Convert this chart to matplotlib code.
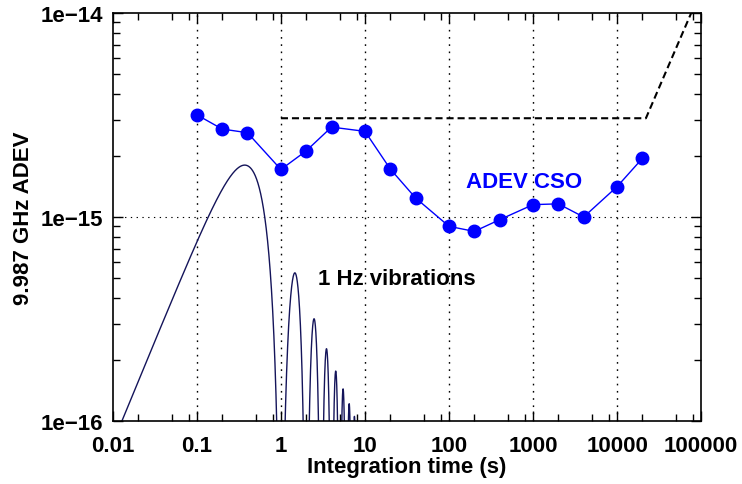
import numpy as np
import matplotlib.pyplot as plt
from matplotlib.ticker import LogLocator, NullFormatter, FixedLocator

plt.rcParams['font.family'] = ['Liberation Sans', 'DejaVu Sans']
plt.rcParams['font.weight'] = 'bold'

# ADEV of the CSO
tau_cso = [0.1, 0.2, 0.4, 1, 2, 4, 10, 20, 40, 100, 200, 400,
           1000, 2000, 4000, 10000, 20000]
adev_cso = [3.17e-15, 2.70e-15, 2.59e-15, 1.71e-15, 2.11e-15, 2.76e-15,
            2.63e-15, 1.72e-15, 1.24e-15, 9.0e-16, 8.5e-16, 9.7e-16,
            1.15e-15, 1.16e-15, 1.0e-15, 1.41e-15, 1.94e-15]

# specification (dashed)
tau_spec = [1, 22000, 76000]
adev_spec = [3.05e-15, 3.05e-15, 1.0e-14]

# 1 Hz vibration model: sigma = A sin^2(pi f tau) / (pi f tau)
vib_freq = 1.0
vib_amp = 2.48e-15
tau_vib = np.logspace(-2, 1, 6000)
adev_vib = vib_amp * np.sin(np.pi * vib_freq * tau_vib) ** 2 / (np.pi * vib_freq * tau_vib)

xticks = [0.01, 0.1, 1, 10, 100, 1000, 10000, 100000]
xlabels = ['0.01', '0.1', '1', '10', '100', '1000', '10000', '100000']
yticks = [1e-16, 1e-15, 1e-14]
ylabels = ['1e\u221216', '1e\u221215', '1e\u221214']

fig = plt.figure(figsize=(7.42, 4.85), dpi=100)
ax = fig.add_axes([0.152, 0.130, 0.793, 0.841])

ax.plot(tau_vib, adev_vib, color='#14145a', lw=1.0)
ax.plot(tau_spec, adev_spec, color='black', lw=1.5, ls=(0, (3.4, 1.9)))
ax.plot(tau_cso, adev_cso, color='#0000ff', lw=1.0, marker='o', ms=9)

ax.set_xscale('log')
ax.set_yscale('log')
ax.set_xlim(0.01, 100000)
ax.set_ylim(1e-16, 1e-14)

# dotted grid at inner decades
for x in xticks[1:-1]:
    ax.axvline(x, color='black', lw=1.0, ls=(0, (1.2, 4)), zorder=0)
ax.axhline(1e-15, color='black', lw=0.8, ls=(0, (1.2, 4)), zorder=0)

ax.xaxis.set_major_locator(FixedLocator(xticks))
ax.set_xticklabels(xlabels)
ax.xaxis.set_minor_locator(LogLocator(base=10, subs=(2, 5, 8), numticks=20))
ax.xaxis.set_minor_formatter(NullFormatter())
ax.yaxis.set_major_locator(FixedLocator(yticks))
ax.set_yticklabels(ylabels)
ax.yaxis.set_minor_locator(LogLocator(base=10, subs=np.arange(2, 10), numticks=20))
ax.yaxis.set_minor_formatter(NullFormatter())

ax.tick_params(which='both', direction='in', top=True, right=True, labelsize=16, width=1.0)
ax.tick_params(which='major', length=7)
ax.tick_params(which='minor', length=5)
ax.tick_params(axis='x', which='major', pad=10)
ax.tick_params(axis='y', which='major', pad=7)
for lab in ax.get_xticklabels() + ax.get_yticklabels():
    lab.set_fontweight('bold')
for sp in ax.spines.values():
    sp.set_linewidth(1.2)

ax.set_xlabel('Integration time (s)', fontsize=16, fontweight='bold', labelpad=0)
ax.set_ylabel('9.987 GHz ADEV', fontsize=16, fontweight='bold', labelpad=5)

ax.text(2.75, 5.0e-16, '1 Hz vibrations', fontsize=16, fontweight='bold', color='black',
        ha='left', va='center')
ax.text(780, 1.5e-15, 'ADEV CSO', fontsize=16, fontweight='bold', color='#0000ff',
        ha='center', va='center')

fig.savefig('out.png', dpi=100)
